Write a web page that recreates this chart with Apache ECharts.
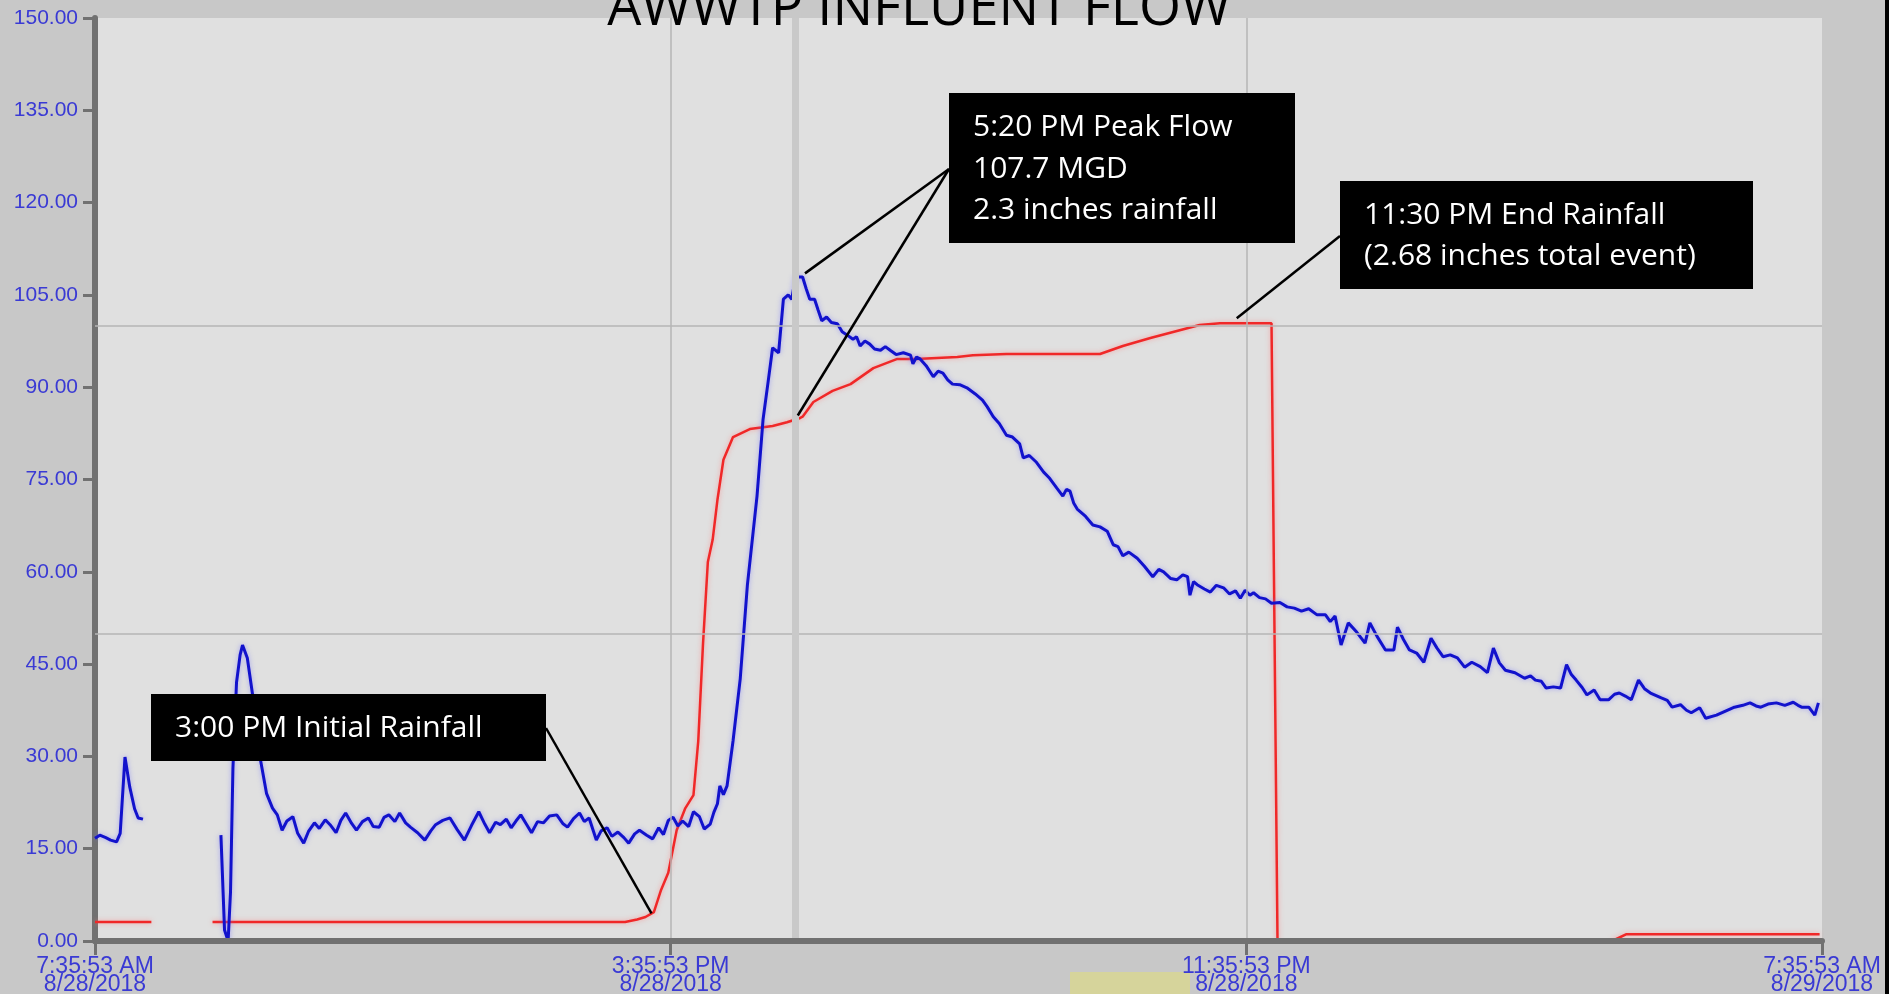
<!DOCTYPE html>
<html>
<head>
<meta charset="utf-8">
<title>AWWTP Influent Flow</title>
<script src="https://cdn.jsdelivr.net/npm/echarts@6/dist/echarts.min.js"></script>
<style>
html, body { margin:0; padding:0; background:#c8c8c8; overflow:hidden; }
#chart { width:1889px; height:994px; }
</style>
</head>
<body>
<div id="chart"></div>
<script>
// x values are minutes after 7:35:53 AM 8/28/2018
var flowT = [0,4,9,13,18,21,25,29,33,36,40,41,
	105,108,111,113,115,118,121,123,127,132,138,143,148,152,
	156,160,165,169,174,178,183,187,192,196,201,205,209,214,218,223,228,232,237,241,245,250,254,259,263,269,275,280,284,290,296,302,308,314,320,325,329,334,338,343,347,351,355,360,364,369,374,379,385,390,394,399,404,408,412,415,418,422,427,431,436,441,445,450,454,460,465,470,474,478,482,486,490,495,499,504,508,513,516,519,521,524,527,532,538,544,552,557,561,565,570,574,578,581,584,590,593,596,600,603,606,610,614,619,623,627,632,635,638,642,646,650,655,659,663,668,674,680,682,685,688,693,699,703,707,711,715,721,727,734,740,744,749,754,760,765,771,774,779,785,791,796,802,807,810,813,816,819,826,832,838,844,849,853,857,862,869,875,882,887,891,897,902,907,911,913,916,919,925,930,935,941,946,951,955,959,963,966,971,976,981,988,994,1000,1006,1012,1019,1026,1030,1034,1039,1045,1052,1059,1063,1069,1076,1083,1086,1091,1096,1102,1108,1114,1119,1124,1130,1136,1142,1148,1155,1161,1166,1171,1176,1184,1192,1197,1201,1206,1210,1216,1222,1227,1231,1235,1240,1244,1250,1255,1262,1267,1271,1276,1281,1287,1292,1297,1306,1311,1315,1322,1327,1331,1338,1343,1352,1360,1367,1374,1380,1385,1389,1395,1402,1409,1416,1420,1423,1429,1434,1437];
var flowV = [16.7,17.2,16.8,16.4,16.1,17.5,29.9,25,21.5,20,19.8,'-',
	17.2,1.8,0,8,28,42,46.5,48.1,46,39.2,29.4,24,21.6,20.5,
	18,19.5,20.2,17.5,15.9,17.8,19.2,18.3,19.7,18.9,17.6,19.6,20.8,19.1,18,19.4,20,18.6,18.5,20.1,20.5,19.4,20.8,19.2,18.5,17.6,16.4,17.9,18.9,19.6,20,18.1,16.4,18.8,21,19,17.6,19.3,18.9,19.8,18.4,19.5,20.5,18.9,17.6,19.4,19.2,20.3,20.5,19.1,18.5,19.9,20.8,19.4,20,18.2,16.4,17.9,18.4,17,17.7,16.8,15.9,17.4,18,17.2,16.6,18.4,17.3,19.6,20.1,18.7,19.5,18.6,21,20.2,18.2,19,20.9,22.3,25.2,23.8,25.2,32.5,42.6,57.9,72.3,84.7,90.5,96.4,95.6,104.3,105,104.3,107.9,107.9,106,104.3,104.3,102.5,100.8,101.4,100.5,100.3,99,98.5,97.8,98.2,96.7,97.5,97,96.2,96,96.6,96,95.3,95.6,95.2,93.8,94.9,94.6,93.5,91.7,92.6,92.3,91.2,90.5,90.4,89.9,88.9,87.9,86.8,85.2,84.1,82.2,81.9,80.8,78.5,78.9,77.8,76.2,75.2,73.6,72.3,73.4,73.1,71.2,70.2,69,67.6,67.3,66.6,64.4,64.1,62.6,63.2,62.2,60.9,59.2,60.4,60,58.9,58.7,59.5,59.2,56.2,58.4,57.9,57.2,56.7,57.8,57.4,56.4,56.9,55.7,57,56.2,56.6,55.8,55.6,54.9,55,54.3,54.1,53.6,54,53,53,51.9,52.8,48.1,51.7,50.2,48.4,51.7,49.5,47.3,47.3,51,49,47.3,46.8,45.3,49.2,47.6,46.2,46.5,46,44.5,45.3,44.6,43.6,47.6,45.2,44,43.6,42.7,43.1,42.4,42.2,41.1,41.3,41.1,44.9,43.3,42.4,41.2,40,40.8,39.2,39.2,40.1,40.3,39.8,39.2,42.4,41,40.3,39.5,39.1,38,38.4,37.5,37.1,37.9,36.2,36.7,37.4,38,38.3,38.7,38.2,38,38.5,38.7,38.3,38.8,38.3,38,38,36.7,38.7];

var rainT = [0,47,48,98,442,452,459,466,472,478,485,492,499,503,507,511,515,519,524,532,546,565,577,588,590,599,615,630,649,669,685,719,732,760,838,857,880,921,938,981,983,986,987,1265,1277,1438];
var rainV = [3.1,3.1,'-',3.1,3.1,3.5,3.9,4.7,8.3,11.1,18,21.5,23.7,32.5,48.4,61.6,65.2,71.7,78.2,81.9,83.2,83.7,84.3,85,85.2,87.6,89.4,90.5,93.1,94.6,94.6,94.9,95.2,95.4,95.4,96.7,98,100.1,100.4,100.4,60,0,'-',0,1.1,1.1];

var xTickLabels = ['7:35:53 AM\n8/28/2018','3:35:53 PM\n8/28/2018','11:35:53 PM\n8/28/2018','7:35:53 AM\n8/29/2018'];
var gridLinesY = [50, 100];
var gridLinesX = [480, 960];
var cursorX = 584;

var noteText = [
	'3:00 PM Initial Rainfall',
	'5:20 PM Peak Flow\n107.7 MGD\n2.3 inches rainfall',
	'11:30 PM End Rainfall\n(2.68 inches total event)'
];
// points each leader line ends on, [minutes, value]
var noteAnchors = [
	[[464, 4.5]],
	[[592, 108.5], [586, 85.4]],
	[[952, 101.2]]
];

function pairs(t, v){
	var res = [];
	for (var i = 0; i < t.length; i++) {
		res.push([t[i], v[i]]);
	}
	return res;
}

var myChart = echarts.init(document.getElementById('chart'));

var option = {
	backgroundColor: '#c8c8c8',
	animation: false,
	grid: {
		left: 95, right: 67, top: 18, bottom: 53,
		show: true,
		backgroundColor: '#e0e0e0',
		borderWidth: 0,
		outerBoundsMode: 'none'
	},
	xAxis: {
		type: 'value',
		min: 0, max: 1440, interval: 480,
		z: 5,
		axisLine: {lineStyle: {color: '#717171', width: 6}},
		axisTick: {length: 14, lineStyle: {color: '#717171', width: 3}},
		splitLine: {show: false},
		axisLabel: {
			showMinLabel: true, showMaxLabel: true,
			margin: 17,
			color: '#3a3ad4',
			fontFamily: 'Liberation Sans',
			fontSize: 23,
			lineHeight: 18,
			formatter: function(v){ return xTickLabels[Math.round(v / 480)]; }
		}
	},
	yAxis: {
		type: 'value',
		min: 0, max: 150, interval: 15,
		axisLine: {show: true, lineStyle: {color: '#717171', width: 6}},
		axisTick: {show: true, length: 12, lineStyle: {color: '#717171', width: 3}},
		splitLine: {show: false},
		axisLabel: {
			margin: 17,
			color: '#3a3ad4',
			fontFamily: 'Liberation Sans',
			fontSize: 21,
			formatter: function(v){ return v.toFixed(2); }
		}
	},
	series: [
		{
			name: 'grid',
			type: 'line',
			data: [],
			z: 1,
			silent: true,
			markLine: {
				silent: true,
				symbol: 'none',
				label: {show: false},
				lineStyle: {color: '#b6b6b6', width: 1.5, type: 'solid'},
				data: gridLinesY.map(function(v){ return {yAxis: v}; })
					.concat(gridLinesX.map(function(v){ return {xAxis: v}; }))
					.concat([{xAxis: cursorX, lineStyle: {color: '#c9c9c9', width: 7}}])
			}
		},
		{
			name: 'Rainfall',
			type: 'line',
			data: pairs(rainT, rainV),
			showSymbol: false,
			z: 3,
			lineStyle: {color: '#f02828', width: 2.5, shadowColor: 'rgba(255,120,120,0.6)', shadowBlur: 5}
		},
		{
			name: 'Influent Flow',
			type: 'line',
			data: pairs(flowT, flowV),
			showSymbol: false,
			z: 4,
			lineStyle: {color: '#1212cc', width: 3, shadowColor: 'rgba(110,110,255,0.55)', shadowBlur: 5}
		}
	]
};
myChart.setOption(option);

function drawNotes(){
	// note boxes: left, top, width, height, where the leader lines leave the box
	var boxes = [
		{x: 151, y: 694, w: 395, h: 67, lx: 546, ly: 728},
		{x: 949, y: 93, w: 346, h: 150, lx: 949, ly: 169},
		{x: 1340, y: 181, w: 413, h: 108, lx: 1340, ly: 236}
	];
	var els = [];
	els.push({
		type: 'text', x: 919, y: 10, z: 120,
		style: {text: 'AWWTP INFLUENT FLOW', fill: '#000', fontFamily: 'Open Sans', fontSize: 54, textAlign: 'center', verticalAlign: 'middle'}
	});
	els.push({type: 'rect', shape: {x: 1070, y: 972, width: 120, height: 22}, style: {fill: '#d6d49b'}, z: 0});
	els.push({type: 'rect', shape: {x: 1885, y: 0, width: 4, height: 994}, style: {fill: '#000'}, z: 120});
	boxes.forEach(function(b, i){
		noteAnchors[i].forEach(function(a){
			var p = myChart.convertToPixel({gridIndex: 0}, a);
			els.push({type: 'line', shape: {x1: b.lx, y1: b.ly, x2: p[0], y2: p[1]}, style: {stroke: '#000', lineWidth: 2.5}, z: 100});
		});
		els.push({type: 'rect', shape: {x: b.x, y: b.y, width: b.w, height: b.h}, style: {fill: '#000'}, z: 101});
		els.push({
			type: 'text', x: b.x + 24, y: b.y + b.h / 2 + 1, z: 102,
			style: {text: noteText[i], fill: '#fff', fontFamily: 'Open Sans', fontSize: 30, lineHeight: 41.5, verticalAlign: 'middle'}
		});
	});
	myChart.setOption({graphic: els});
}
drawNotes();

window.addEventListener('resize', function(){
	myChart.resize();
	drawNotes();
});
</script>
</body>
</html>
